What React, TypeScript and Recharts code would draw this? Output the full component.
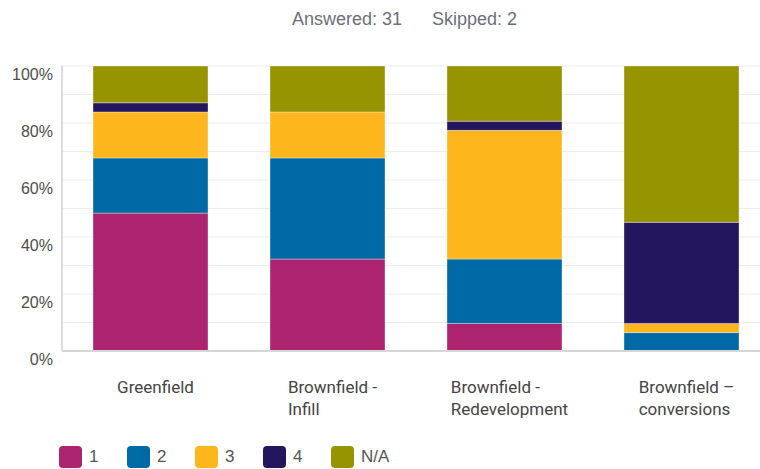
import React from 'react';
import { BarChart, Bar, XAxis, YAxis, CartesianGrid } from 'recharts';

const categories = [
  'Greenfield',
  'Brownfield -\nInfill',
  'Brownfield -\nRedevelopment',
  'Brownfield –\nconversions',
];

// answer counts per category (31 answered)
const rating1 = [15, 10, 3, 0];
const rating2 = [6, 11, 7, 2];
const rating3 = [5, 5, 14, 1];
const rating4 = [1, 0, 1, 11];
const ratingNA = [4, 5, 6, 17];

const seriesKeys = ['1', '2', '3', '4', 'N/A'];
const seriesColors = ['#AC2470', '#006AA6', '#FDB71C', '#24165E', '#969400'];
const yTicks = [0, 0.1, 0.2, 0.3, 0.4, 0.5, 0.6, 0.7, 0.8, 0.9, 1];

const data = categories.map((name, i) => ({
  name,
  '1': rating1[i],
  '2': rating2[i],
  '3': rating3[i],
  '4': rating4[i],
  'N/A': ratingNA[i],
}));

const labelFont = 'Roboto, "Liberation Sans", sans-serif';

let measureCtx: CanvasRenderingContext2D | null = null;
function textWidth(s: string, font: string): number {
  if (!measureCtx) measureCtx = document.createElement('canvas').getContext('2d');
  if (!measureCtx) return s.length * 8;
  measureCtx.font = font;
  return measureCtx.measureText(s).width;
}

function YTick(props: any) {
  const { y, payload } = props;
  const pct = Math.round(payload.value * 100);
  if (pct % 20 !== 0) return null;
  return (
    <text x={53} y={y + 14} textAnchor="end" fontSize={16} fill="#4d4d4d" fontFamily='"Liberation Sans", sans-serif'>
      {pct}%
    </text>
  );
}

function XTick(props: any) {
  const { x, y, payload } = props;
  const lines = String(payload.value).split('\n');
  const font = `17px ${labelFont}`;
  const w = Math.max(...lines.map((l) => textWidth(l, font)));
  const left = x - w / 2 + 5;
  return (
    <text x={left} y={y + 34} textAnchor="start" fontSize={17} fill="#444" fontFamily={labelFont}>
      {lines.map((l, i) => (
        <tspan key={i} x={left} dy={i === 0 ? 0 : 22}>
          {l}
        </tspan>
      ))}
    </text>
  );
}

export default function App() {
  return (
    <div
      style={{
        position: 'absolute',
        left: 0,
        top: 0,
        width: 760,
        height: 469,
        overflow: 'hidden',
        background: '#fff',
        fontFamily: '"Liberation Sans", sans-serif',
      }}
    >
      <div style={{ position: 'absolute', top: 9, left: 292, fontSize: 18, color: '#6b7079', whiteSpace: 'nowrap' }}>
        Answered: 31
      </div>
      <div style={{ position: 'absolute', top: 9, left: 432, fontSize: 18, color: '#6b7079', whiteSpace: 'nowrap' }}>
        Skipped: 2
      </div>

      <div style={{ position: 'absolute', top: 0, left: 0 }}>
        <BarChart
          width={780}
          height={420}
          data={data}
          stackOffset="expand"
          margin={{ top: 66, right: 10, left: 0, bottom: 0 }}
        >
          <CartesianGrid vertical={false} stroke="#ececec" />
          <XAxis
            dataKey="name"
            height={69}
            tickLine={false}
            axisLine={{ stroke: '#d6d6d6', strokeWidth: 2 }}
            tick={<XTick />}
            interval={0}
          />
          <YAxis
            type="number"
            domain={[0, 1]}
            ticks={yTicks}
            width={62}
            tickLine={false}
            axisLine={{ stroke: '#dcdcdc', strokeWidth: 2 }}
            tick={<YTick />}
            interval={0}
          />
          {seriesKeys.map((k, i) => (
            <Bar
              key={k}
              dataKey={k}
              stackId="a"
              fill={seriesColors[i]}
              barSize={115}
              stroke="rgba(255,255,255,0.35)"
              strokeWidth={1}
              isAnimationActive={false}
            />
          ))}
        </BarChart>
      </div>

      <div style={{ position: 'absolute', top: 446, left: 59, display: 'flex' }}>
        {seriesKeys.map((k, i) => (
          <div key={k} style={{ width: 68, display: 'flex', alignItems: 'center' }}>
            <span
              style={{
                display: 'inline-block',
                width: 23,
                height: 22,
                borderRadius: 4,
                background: seriesColors[i],
                marginRight: 7,
              }}
            />
            <span style={{ fontSize: 17, color: '#555', lineHeight: '22px' }}>{k}</span>
          </div>
        ))}
      </div>
    </div>
  );
}
